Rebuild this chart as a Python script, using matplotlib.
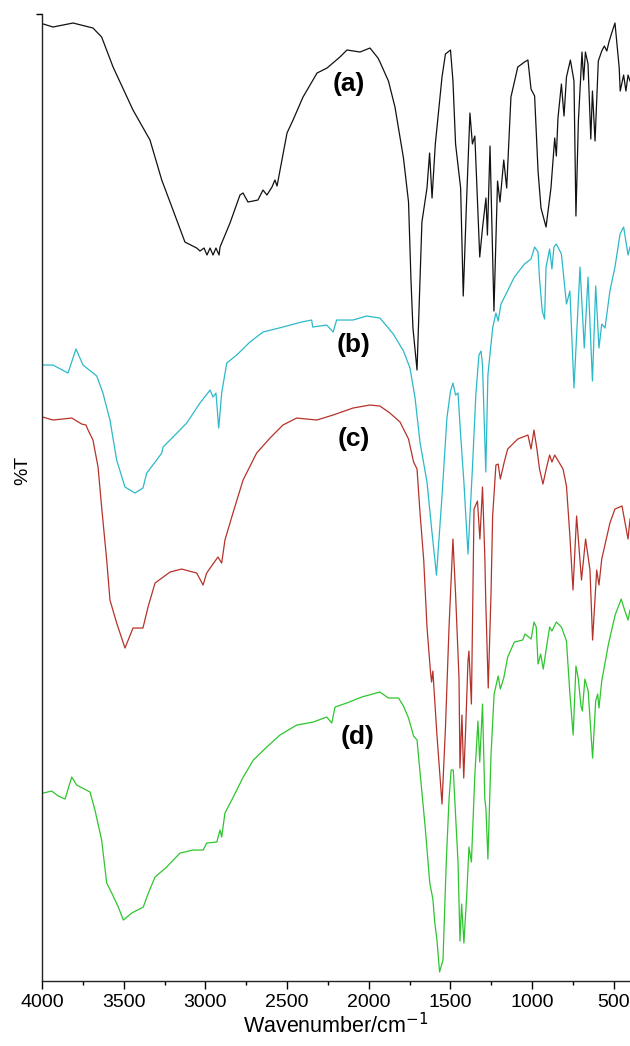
import matplotlib
matplotlib.use("Agg")
import matplotlib.pyplot as plt
from matplotlib.ticker import MultipleLocator

# IR spectra: wavenumber (cm-1) and %T (arbitrary offset units)
wn_a = [3992, 3933, 3810, 3688, 3635, 3565, 3443, 3339, 3267, 3198, 3125, 3053,
        3033, 3008, 2990, 2971, 2953, 2935, 2916, 2910, 2849, 2788, 2769, 2739,
        2678, 2647, 2623, 2592, 2574, 2561, 2500, 2463, 2402, 2316, 2255, 2176,
        2133, 2053, 1992, 1943, 1931, 1879, 1839, 1787, 1756, 1741, 1729, 1723,
        1704, 1674, 1643, 1627, 1612, 1592, 1551, 1530, 1499, 1484, 1468, 1437,
        1421, 1400, 1380, 1365, 1350, 1320, 1303, 1282, 1273, 1257, 1233, 1211,
        1196, 1173, 1155, 1129, 1087, 1046, 1025, 1006, 984, 963, 945, 914, 884,
        861, 851, 841, 820, 804, 789, 765, 743, 731, 716, 694, 684, 673, 657,
        640, 630, 614, 594, 573, 557, 542, 529, 510, 492, 466, 460, 439, 425,
        412, 400]
t_a = [95.7, 95.4, 95.8, 95.3, 94.4, 91.4, 87.1, 84.1, 80.1, 77.1, 73.9, 73.3,
       73.0, 73.3, 72.6, 73.3, 72.6, 73.3, 72.6, 73.4, 75.8, 78.6, 78.8, 77.9,
       78.1, 79.1, 78.6, 79.4, 80.1, 79.5, 84.8, 86.1, 88.4, 90.8, 91.3, 92.4,
       93.1, 92.9, 93.3, 92.3, 91.9, 90.0, 87.4, 82.3, 77.9, 70.1, 65.3, 64.3,
       61.1, 75.9, 79.3, 82.8, 78.3, 83.7, 90.4, 92.7, 93.1, 90.0, 83.7, 79.3,
       68.5, 78.3, 86.8, 83.7, 84.5, 72.4, 75.3, 78.3, 74.6, 83.5, 67.0, 80.0,
       77.9, 82.1, 79.3, 88.4, 91.4, 91.9, 92.1, 89.2, 88.5, 81.0, 77.3, 75.4,
       79.3, 84.3, 82.5, 86.3, 89.7, 86.5, 90.4, 92.1, 90.0, 76.5, 86.0, 92.9,
       90.1, 92.9, 91.7, 84.2, 89.0, 84.0, 92.0, 93.0, 93.5, 93.0, 93.9, 94.9,
       95.8, 91.3, 89.0, 90.6, 89.0, 90.6, 90.0]

wn_b = [3996, 3933, 3841, 3792, 3749, 3665, 3627, 3584, 3543, 3492, 3431, 3382,
        3359, 3298, 3267, 3259, 3198, 3114, 3033, 2971, 2953, 2935, 2918, 2900,
        2869, 2808, 2727, 2647, 2525, 2410, 2349, 2343, 2257, 2218, 2196, 2096,
        2012, 1931, 1849, 1787, 1747, 1716, 1686, 1643, 1612, 1585, 1551, 1521,
        1499, 1484, 1468, 1453, 1437, 1417, 1392, 1365, 1344, 1325, 1312, 1303,
        1283, 1270, 1241, 1221, 1207, 1190, 1159, 1108, 1046, 1006, 984, 963,
        954, 937, 923, 914, 892, 878, 866, 851, 820, 789, 768, 743, 706, 680,
        657, 630, 610, 590, 573, 553, 523, 492, 461, 439, 412, 400]
t_b = [61.6, 61.6, 60.8, 63.2, 61.6, 60.5, 58.8, 56.1, 52.1, 49.4, 48.8, 49.3,
       50.8, 52.1, 52.8, 53.4, 54.4, 55.8, 57.8, 59.1, 58.4, 58.8, 55.3, 58.8,
       61.8, 62.6, 63.9, 64.9, 65.4, 65.9, 66.1, 65.4, 65.6, 64.9, 66.1, 66.1,
       66.5, 66.3, 64.7, 63.0, 61.3, 58.3, 53.9, 49.9, 44.8, 40.6, 48.5, 56.3,
       59.0, 59.8, 58.6, 58.8, 54.6, 49.9, 42.7, 51.2, 58.6, 62.6, 63.0, 61.6,
       50.9, 60.6, 65.3, 66.8, 66.0, 67.7, 68.7, 70.4, 71.7, 72.2, 73.4, 72.9,
       70.2, 67.0, 66.2, 71.4, 73.2, 71.2, 73.4, 73.7, 72.7, 67.7, 69.0, 59.3,
       71.4, 63.3, 70.4, 60.0, 69.5, 63.3, 65.7, 65.3, 69.0, 71.4, 74.7, 75.4,
       72.6, 73.4]

wn_c = [3996, 3933, 3818, 3757, 3731, 3718, 3688, 3657, 3635, 3604, 3584, 3543,
        3492, 3443, 3382, 3351, 3308, 3216, 3145, 3053, 3014, 2992, 2923, 2900,
        2880, 2831, 2769, 2686, 2604, 2525, 2441, 2318, 2218, 2096, 1992, 1931,
        1870, 1808, 1756, 1725, 1704, 1686, 1663, 1643, 1622, 1615, 1607, 1582,
        1551, 1530, 1508, 1484, 1468, 1447, 1441, 1429, 1418, 1406, 1392, 1386,
        1371, 1355, 1334, 1319, 1303, 1289, 1283, 1268, 1251, 1241, 1221, 1207,
        1194, 1170, 1149, 1087, 1025, 1006, 988, 970, 954, 933, 913, 892, 878,
        861, 810, 789, 768, 749, 727, 697, 672, 645, 629, 604, 590, 573, 523,
        492, 449, 412, 400]
t_c = [56.4, 56.1, 56.3, 55.7, 55.6, 55.1, 54.1, 51.4, 47.4, 42.1, 38.1, 35.8,
       33.3, 35.3, 35.3, 37.4, 39.8, 40.9, 41.2, 40.8, 39.6, 40.8, 42.4, 41.8,
       44.1, 46.8, 50.1, 52.8, 54.3, 55.6, 56.3, 56.1, 56.6, 57.3, 57.6, 57.5,
       56.8, 55.9, 54.2, 51.9, 51.2, 46.9, 42.1, 35.4, 31.0, 29.9, 31.0, 24.6,
       17.7, 25.3, 35.4, 44.2, 38.7, 30.3, 21.3, 26.6, 20.3, 25.3, 32.0, 33.0,
       27.7, 47.2, 48.0, 44.2, 49.4, 42.5, 37.9, 29.3, 38.7, 46.5, 51.6, 51.7,
       50.2, 51.9, 53.2, 54.2, 54.6, 53.2, 55.1, 53.2, 51.2, 49.7, 51.2, 52.6,
       51.9, 52.6, 51.2, 49.5, 44.5, 39.1, 46.5, 40.1, 44.2, 41.1, 34.1, 41.1,
       39.6, 42.2, 45.8, 47.2, 47.5, 44.2, 46.2]

wn_d = [3992, 3941, 3900, 3859, 3818, 3788, 3706, 3676, 3635, 3604, 3573, 3533,
        3502, 3451, 3380, 3349, 3308, 3237, 3155, 3074, 3013, 2992, 2930, 2910,
        2900, 2880, 2829, 2768, 2706, 2624, 2543, 2441, 2339, 2257, 2226, 2206,
        2135, 2043, 1931, 1879, 1817, 1787, 1756, 1725, 1704, 1684, 1653, 1626,
        1607, 1595, 1582, 1566, 1545, 1525, 1508, 1495, 1482, 1468, 1453, 1441,
        1431, 1417, 1400, 1386, 1371, 1350, 1331, 1320, 1303, 1289, 1282, 1270,
        1251, 1232, 1207, 1194, 1173, 1149, 1108, 1057, 1043, 1005, 988, 974,
        963, 947, 931, 913, 892, 878, 851, 820, 789, 768, 748, 731, 717, 700,
        692, 676, 656, 629, 610, 598, 590, 573, 532, 491, 454, 433, 412, 400]
t_d = [18.8, 19.0, 18.5, 18.2, 20.4, 19.6, 18.9, 17.1, 14.1, 9.8, 8.8, 7.4,
       6.1, 6.8, 7.4, 8.8, 10.4, 11.4, 12.8, 13.1, 13.1, 13.8, 13.9, 15.1,
       14.4, 16.8, 18.4, 20.4, 22.1, 23.4, 24.6, 25.6, 25.9, 26.4, 25.8, 27.4,
       27.8, 28.4, 28.9, 28.3, 28.3, 27.5, 26.3, 24.5, 24.1, 20.6, 15.2, 9.8,
       8.2, 5.8, 4.1, 0.9, 2.1, 11.9, 18.2, 21.1, 21.1, 16.6, 11.9, 4.0,
       7.7, 3.8, 8.5, 13.4, 11.9, 20.6, 26.0, 21.9, 27.7, 18.2, 17.2, 12.2,
       22.6, 28.7, 30.5, 29.2, 30.3, 32.4, 33.9, 34.1, 34.7, 34.2, 35.9, 35.4,
       31.7, 32.7, 31.2, 33.2, 35.4, 35.0, 35.9, 35.4, 34.0, 28.7, 24.6, 31.5,
       30.3, 27.5, 27.0, 30.2, 29.0, 22.3, 28.0, 28.7, 27.3, 30.0, 33.7, 36.6,
       38.2, 37.1, 36.1, 37.1]

labels = ["(a)", "(b)", "(c)", "(d)"]
label_wn = [2120, 2093, 2090, 2065]
label_t = [89.7, 63.6, 54.2, 24.4]


def main():
    plt.rcParams["font.family"] = ["Liberation Sans", "DejaVu Sans"]

    fig = plt.figure(figsize=(6.3, 10.46), dpi=100)
    ax = fig.add_axes([0.0667, 0.0621, 0.9333, 0.9245])

    ax.plot(wn_a, t_a, color="#111111", lw=0.9)
    ax.plot(wn_b, t_b, color="#2bb9c9", lw=0.9)
    ax.plot(wn_c, t_c, color="#b5322a", lw=0.9)
    ax.plot(wn_d, t_d, color="#2ec52e", lw=0.9)

    for lab, x, y in zip(labels, label_wn, label_t):
        ax.text(x, y, lab, fontsize=19, fontweight="bold", ha="center", va="center")

    ax.set_xlim(4000, 400)
    ax.set_ylim(0, 96.7)

    ax.xaxis.set_major_locator(MultipleLocator(500))
    ax.xaxis.set_minor_locator(MultipleLocator(250))
    ax.tick_params(axis="x", which="major", direction="out", length=6, width=1.0,
                   labelsize=14, pad=3)
    ax.tick_params(axis="x", which="minor", direction="out", length=3, width=1.0)
    ax.set_yticks([96.7])
    ax.set_yticklabels([])
    ax.tick_params(axis="y", direction="out", length=4, width=1.0)

    for side in ("top", "right"):
        ax.spines[side].set_visible(False)
    for side in ("left", "bottom"):
        ax.spines[side].set_linewidth(1.0)
        ax.spines[side].set_color("#222222")

    ax.set_xlabel("Wavenumber/cm$^{\u2212 1}$", fontsize=15.5, labelpad=2)
    ax.set_ylabel("%T", fontsize=14)
    ax.yaxis.set_label_coords(-0.018, 0.528)

    fig.savefig("out.png", dpi=100)
    plt.close(fig)


if __name__ == "__main__":
    main()
